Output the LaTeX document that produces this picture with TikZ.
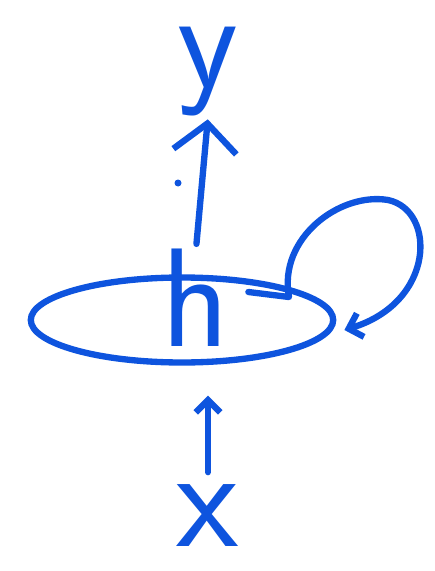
\documentclass[tikz,border=0pt]{standalone}
\usepackage{fontspec}
\usetikzlibrary{arrows.meta,shapes.geometric,calc}

\definecolor{ink}{RGB}{14,84,222}

\begin{document}
\begin{tikzpicture}[
  x=0.02cm, y=-0.02cm,
  inkline/.style={draw=ink, line width=3.6pt, line cap=round, line join=round},
  letter/.style={text=ink, inner sep=0pt, font=\sffamily\fontsize{#1}{#1}\selectfont},
  cellshape/.style={ellipse, inkline, minimum width=6.05cm, minimum height=1.7cm, inner sep=0pt},
  bigarr/.style={inkline, -{Straight Barb[length=16pt, width=36pt]}},
  smallarr/.style={inkline, -{Straight Barb[length=7pt, width=14pt]}}
]
\useasboundingbox (0,0) rectangle (435,571);

% the recurrent cell
\node[cellshape] (cell) at (182,320) {};
\node[letter=80] (h) at (196,298) {h};

% input and output
\node[letter=82] (x) at (208,516) {x};
\node[letter=80] (y) at (208,72) {y};

\draw[smallarr, shorten <=0.25cm, shorten >=0.6cm] (x.north) -- (x.north |- cell.south);
\draw[bigarr, shorten <=0.1cm, shorten >=0.05cm] (h.north) -- (y.south);
\fill[ink] (178,183) circle (3.5);

% self loop
\draw[smallarr] ($(h.east)+(18,-6)$) -- (289,297)
  .. controls (278,238) and (340,192) .. (388,200)
  .. controls (436,210) and (436,302) .. ($(cell.east)+(8,10)$);

\end{tikzpicture}
\end{document}
